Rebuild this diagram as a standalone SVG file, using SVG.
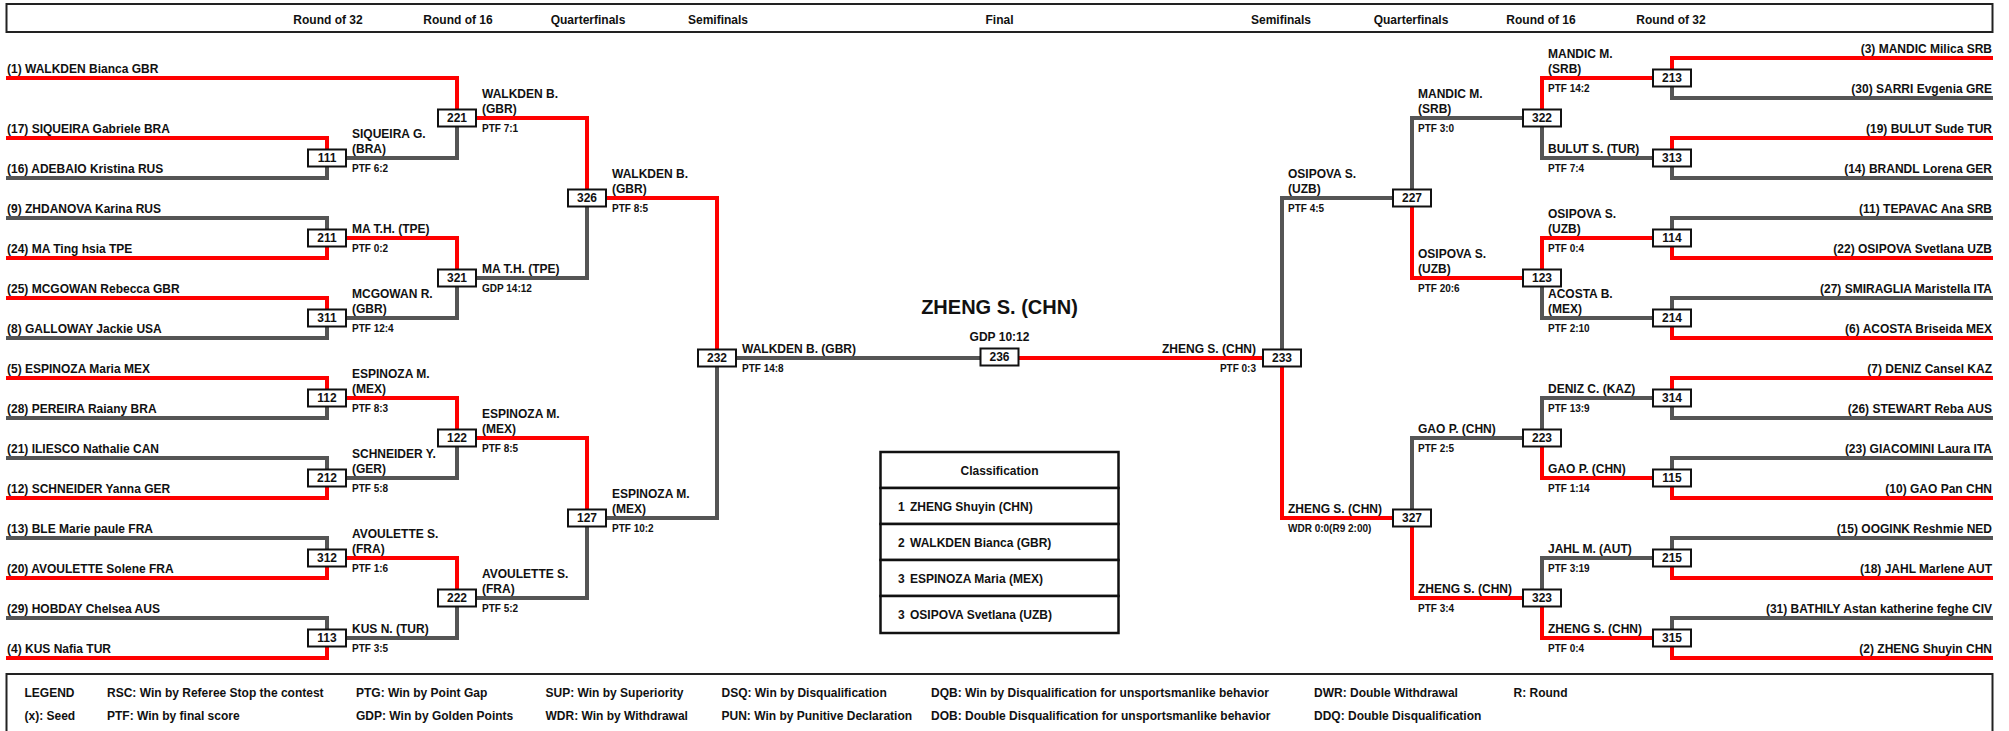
<svg xmlns="http://www.w3.org/2000/svg" width="2009" height="731" viewBox="0 0 2009 731">
<style>
text{font-family:"Liberation Sans",Arial,sans-serif;font-weight:bold;fill:#111}
.hd{font-size:12px;text-anchor:middle}
.ent{font-size:12px}
.entr{font-size:12px;text-anchor:end}
.nm{font-size:12px}
.sc{font-size:10px}
.bx{font-size:12px;text-anchor:middle}
.box{fill:#fff;stroke:#111;stroke-width:2}
.r{fill:none;stroke:#ff0000;stroke-width:4;stroke-linejoin:miter}
.g{fill:none;stroke:#555;stroke-width:4;stroke-linejoin:miter}
.frame{fill:#fff;stroke:#222;stroke-width:2}
.tbl{fill:#fff;stroke:#111;stroke-width:2.5}
.lg{font-size:12px}
</style>
<rect width="2009" height="731" fill="#fff"/>
<g id="header">
<rect class="frame" x="6.5" y="4" width="1986" height="28"/>
<text class="hd" x="328" y="24.3">Round of 32</text>
<text class="hd" x="458" y="24.3">Round of 16</text>
<text class="hd" x="588" y="24.3">Quarterfinals</text>
<text class="hd" x="718" y="24.3">Semifinals</text>
<text class="hd" x="999.5" y="24.3">Final</text>
<text class="hd" x="1281" y="24.3">Semifinals</text>
<text class="hd" x="1411" y="24.3">Quarterfinals</text>
<text class="hd" x="1541" y="24.3">Round of 16</text>
<text class="hd" x="1671" y="24.3">Round of 32</text>
</g>
<g id="connectors">
<path class="g" d="M6 178H327V158M6 218H327V238M6 338H327V318M6 418H327V398M6 458H327V478M6 538H327V558M6 618H327V638"/>
<path class="r" d="M6 78H457V118M6 138H327V158M6 258H327V238M6 298H327V318M6 378H327V398M6 498H327V478M6 578H327V558M6 658H327V638"/>
<path class="g" d="M327 158H457V118M327 318H457V278M327 478H457V438M327 638H457V598M457 278H587V198M457 598H587V518M587 518H717V358M717 358H999.5"/>
<path class="r" d="M327 238H457V278M327 398H457V438M327 558H457V598M457 118H587V198M457 438H587V518M587 198H717V358"/>
<path class="g" d="M1993 98H1672V78M1993 178H1672V158M1993 218H1672V238M1993 298H1672V318M1993 418H1672V398M1993 458H1672V478M1993 538H1672V558M1993 618H1672V638"/>
<path class="r" d="M1993 58H1672V78M1993 138H1672V158M1993 258H1672V238M1993 338H1672V318M1993 378H1672V398M1993 498H1672V478M1993 578H1672V558M1993 658H1672V638"/>
<path class="g" d="M1672 158H1542V118M1672 318H1542V278M1672 398H1542V438M1672 558H1542V598M1542 118H1412V198M1542 438H1412V518M1412 198H1282V358"/>
<path class="r" d="M1672 78H1542V118M1672 238H1542V278M1672 478H1542V438M1672 638H1542V598M1542 278H1412V198M1542 598H1412V518M1412 518H1282V358M1282 358H999.5"/>
</g>
<g id="entrants-left">
<text class="ent" x="7" y="72.5">(1) WALKDEN Bianca GBR</text>
<text class="ent" x="7" y="132.5">(17) SIQUEIRA Gabriele BRA</text>
<text class="ent" x="7" y="172.5">(16) ADEBAIO Kristina RUS</text>
<text class="ent" x="7" y="212.5">(9) ZHDANOVA Karina RUS</text>
<text class="ent" x="7" y="252.5">(24) MA Ting hsia TPE</text>
<text class="ent" x="7" y="292.5">(25) MCGOWAN Rebecca GBR</text>
<text class="ent" x="7" y="332.5">(8) GALLOWAY Jackie USA</text>
<text class="ent" x="7" y="372.5">(5) ESPINOZA Maria MEX</text>
<text class="ent" x="7" y="412.5">(28) PEREIRA Raiany BRA</text>
<text class="ent" x="7" y="452.5">(21) ILIESCO Nathalie CAN</text>
<text class="ent" x="7" y="492.5">(12) SCHNEIDER Yanna GER</text>
<text class="ent" x="7" y="532.5">(13) BLE Marie paule FRA</text>
<text class="ent" x="7" y="572.5">(20) AVOULETTE Solene FRA</text>
<text class="ent" x="7" y="612.5">(29) HOBDAY Chelsea AUS</text>
<text class="ent" x="7" y="652.5">(4) KUS Nafia TUR</text>
</g>
<g id="entrants-right">
<text class="entr" x="1992" y="52.5">(3) MANDIC Milica SRB</text>
<text class="entr" x="1992" y="92.5">(30) SARRI Evgenia GRE</text>
<text class="entr" x="1992" y="132.5">(19) BULUT Sude TUR</text>
<text class="entr" x="1992" y="172.5">(14) BRANDL Lorena GER</text>
<text class="entr" x="1992" y="212.5">(11) TEPAVAC Ana SRB</text>
<text class="entr" x="1992" y="252.5">(22) OSIPOVA Svetlana UZB</text>
<text class="entr" x="1992" y="292.5">(27) SMIRAGLIA Maristella ITA</text>
<text class="entr" x="1992" y="332.5">(6) ACOSTA Briseida MEX</text>
<text class="entr" x="1992" y="372.5">(7) DENIZ Cansel KAZ</text>
<text class="entr" x="1992" y="412.5">(26) STEWART Reba AUS</text>
<text class="entr" x="1992" y="452.5">(23) GIACOMINI Laura ITA</text>
<text class="entr" x="1992" y="492.5">(10) GAO Pan CHN</text>
<text class="entr" x="1992" y="532.5">(15) OOGINK Reshmie NED</text>
<text class="entr" x="1992" y="572.5">(18) JAHL Marlene AUT</text>
<text class="entr" x="1992" y="612.5">(31) BATHILY Astan katherine feghe CIV</text>
<text class="entr" x="1992" y="652.5">(2) ZHENG Shuyin CHN</text>
</g>
<g id="m111"><rect class="box" x="308" y="149.5" width="38" height="17"/><text class="bx" x="327" y="162.3">111</text>
<text class="nm" x="352" y="138">SIQUEIRA G.</text><text class="nm" x="352" y="152.5">(BRA)</text><text class="sc" x="352" y="172">PTF 6:2</text></g>
<g id="m211"><rect class="box" x="308" y="229.5" width="38" height="17"/><text class="bx" x="327" y="242.3">211</text>
<text class="nm" x="352" y="232.5">MA T.H. (TPE)</text><text class="sc" x="352" y="252">PTF 0:2</text></g>
<g id="m311"><rect class="box" x="308" y="309.5" width="38" height="17"/><text class="bx" x="327" y="322.3">311</text>
<text class="nm" x="352" y="298">MCGOWAN R.</text><text class="nm" x="352" y="312.5">(GBR)</text><text class="sc" x="352" y="332">PTF 12:4</text></g>
<g id="m112"><rect class="box" x="308" y="389.5" width="38" height="17"/><text class="bx" x="327" y="402.3">112</text>
<text class="nm" x="352" y="378">ESPINOZA M.</text><text class="nm" x="352" y="392.5">(MEX)</text><text class="sc" x="352" y="412">PTF 8:3</text></g>
<g id="m212"><rect class="box" x="308" y="469.5" width="38" height="17"/><text class="bx" x="327" y="482.3">212</text>
<text class="nm" x="352" y="458">SCHNEIDER Y.</text><text class="nm" x="352" y="472.5">(GER)</text><text class="sc" x="352" y="492">PTF 5:8</text></g>
<g id="m312"><rect class="box" x="308" y="549.5" width="38" height="17"/><text class="bx" x="327" y="562.3">312</text>
<text class="nm" x="352" y="538">AVOULETTE S.</text><text class="nm" x="352" y="552.5">(FRA)</text><text class="sc" x="352" y="572">PTF 1:6</text></g>
<g id="m113"><rect class="box" x="308" y="629.5" width="38" height="17"/><text class="bx" x="327" y="642.3">113</text>
<text class="nm" x="352" y="632.5">KUS N. (TUR)</text><text class="sc" x="352" y="652">PTF 3:5</text></g>
<g id="m221"><rect class="box" x="438" y="109.5" width="38" height="17"/><text class="bx" x="457" y="122.3">221</text>
<text class="nm" x="482" y="98">WALKDEN B.</text><text class="nm" x="482" y="112.5">(GBR)</text><text class="sc" x="482" y="132">PTF 7:1</text></g>
<g id="m321"><rect class="box" x="438" y="269.5" width="38" height="17"/><text class="bx" x="457" y="282.3">321</text>
<text class="nm" x="482" y="272.5">MA T.H. (TPE)</text><text class="sc" x="482" y="292">GDP 14:12</text></g>
<g id="m122"><rect class="box" x="438" y="429.5" width="38" height="17"/><text class="bx" x="457" y="442.3">122</text>
<text class="nm" x="482" y="418">ESPINOZA M.</text><text class="nm" x="482" y="432.5">(MEX)</text><text class="sc" x="482" y="452">PTF 8:5</text></g>
<g id="m222"><rect class="box" x="438" y="589.5" width="38" height="17"/><text class="bx" x="457" y="602.3">222</text>
<text class="nm" x="482" y="578">AVOULETTE S.</text><text class="nm" x="482" y="592.5">(FRA)</text><text class="sc" x="482" y="612">PTF 5:2</text></g>
<g id="m326"><rect class="box" x="568" y="189.5" width="38" height="17"/><text class="bx" x="587" y="202.3">326</text>
<text class="nm" x="612" y="178">WALKDEN B.</text><text class="nm" x="612" y="192.5">(GBR)</text><text class="sc" x="612" y="212">PTF 8:5</text></g>
<g id="m127"><rect class="box" x="568" y="509.5" width="38" height="17"/><text class="bx" x="587" y="522.3">127</text>
<text class="nm" x="612" y="498">ESPINOZA M.</text><text class="nm" x="612" y="512.5">(MEX)</text><text class="sc" x="612" y="532">PTF 10:2</text></g>
<g id="m232"><rect class="box" x="698" y="349.5" width="38" height="17"/><text class="bx" x="717" y="362.3">232</text>
<text class="nm" x="742" y="352.5">WALKDEN B. (GBR)</text><text class="sc" x="742" y="372">PTF 14:8</text></g>
<g id="m236"><text x="999.5" y="314" style="font-size:20px;text-anchor:middle">ZHENG S. (CHN)</text>
<text class="hd" x="999.5" y="340.5">GDP 10:12</text>
<rect class="box" x="980.5" y="348.5" width="38" height="17"/><text class="bx" x="999.5" y="361.3">236</text></g>
<g id="m233"><rect class="box" x="1263" y="349.5" width="38" height="17"/><text class="bx" x="1282" y="362.3">233</text>
<text class="nm" x="1256" y="352.5" text-anchor="end">ZHENG S. (CHN)</text><text class="sc" x="1256" y="372" text-anchor="end">PTF 0:3</text></g>
<g id="m227"><rect class="box" x="1393" y="189.5" width="38" height="17"/><text class="bx" x="1412" y="202.3">227</text>
<text class="nm" x="1288" y="178">OSIPOVA S.</text><text class="nm" x="1288" y="192.5">(UZB)</text><text class="sc" x="1288" y="212">PTF 4:5</text></g>
<g id="m327"><rect class="box" x="1393" y="509.5" width="38" height="17"/><text class="bx" x="1412" y="522.3">327</text>
<text class="nm" x="1288" y="512.5">ZHENG S. (CHN)</text><text class="sc" x="1288" y="532">WDR 0:0(R9 2:00)</text></g>
<g id="m322"><rect class="box" x="1523" y="109.5" width="38" height="17"/><text class="bx" x="1542" y="122.3">322</text>
<text class="nm" x="1418" y="98">MANDIC M.</text><text class="nm" x="1418" y="112.5">(SRB)</text><text class="sc" x="1418" y="132">PTF 3:0</text></g>
<g id="m123"><rect class="box" x="1523" y="269.5" width="38" height="17"/><text class="bx" x="1542" y="282.3">123</text>
<text class="nm" x="1418" y="258">OSIPOVA S.</text><text class="nm" x="1418" y="272.5">(UZB)</text><text class="sc" x="1418" y="292">PTF 20:6</text></g>
<g id="m223"><rect class="box" x="1523" y="429.5" width="38" height="17"/><text class="bx" x="1542" y="442.3">223</text>
<text class="nm" x="1418" y="432.5">GAO P. (CHN)</text><text class="sc" x="1418" y="452">PTF 2:5</text></g>
<g id="m323"><rect class="box" x="1523" y="589.5" width="38" height="17"/><text class="bx" x="1542" y="602.3">323</text>
<text class="nm" x="1418" y="592.5">ZHENG S. (CHN)</text><text class="sc" x="1418" y="612">PTF 3:4</text></g>
<g id="m213"><rect class="box" x="1653" y="69.5" width="38" height="17"/><text class="bx" x="1672" y="82.3">213</text>
<text class="nm" x="1548" y="58">MANDIC M.</text><text class="nm" x="1548" y="72.5">(SRB)</text><text class="sc" x="1548" y="92">PTF 14:2</text></g>
<g id="m313"><rect class="box" x="1653" y="149.5" width="38" height="17"/><text class="bx" x="1672" y="162.3">313</text>
<text class="nm" x="1548" y="152.5">BULUT S. (TUR)</text><text class="sc" x="1548" y="172">PTF 7:4</text></g>
<g id="m114"><rect class="box" x="1653" y="229.5" width="38" height="17"/><text class="bx" x="1672" y="242.3">114</text>
<text class="nm" x="1548" y="218">OSIPOVA S.</text><text class="nm" x="1548" y="232.5">(UZB)</text><text class="sc" x="1548" y="252">PTF 0:4</text></g>
<g id="m214"><rect class="box" x="1653" y="309.5" width="38" height="17"/><text class="bx" x="1672" y="322.3">214</text>
<text class="nm" x="1548" y="298">ACOSTA B.</text><text class="nm" x="1548" y="312.5">(MEX)</text><text class="sc" x="1548" y="332">PTF 2:10</text></g>
<g id="m314"><rect class="box" x="1653" y="389.5" width="38" height="17"/><text class="bx" x="1672" y="402.3">314</text>
<text class="nm" x="1548" y="392.5">DENIZ C. (KAZ)</text><text class="sc" x="1548" y="412">PTF 13:9</text></g>
<g id="m115"><rect class="box" x="1653" y="469.5" width="38" height="17"/><text class="bx" x="1672" y="482.3">115</text>
<text class="nm" x="1548" y="472.5">GAO P. (CHN)</text><text class="sc" x="1548" y="492">PTF 1:14</text></g>
<g id="m215"><rect class="box" x="1653" y="549.5" width="38" height="17"/><text class="bx" x="1672" y="562.3">215</text>
<text class="nm" x="1548" y="552.5">JAHL M. (AUT)</text><text class="sc" x="1548" y="572">PTF 3:19</text></g>
<g id="m315"><rect class="box" x="1653" y="629.5" width="38" height="17"/><text class="bx" x="1672" y="642.3">315</text>
<text class="nm" x="1548" y="632.5">ZHENG S. (CHN)</text><text class="sc" x="1548" y="652">PTF 0:4</text></g>
<g id="classification">
<rect class="tbl" x="880.5" y="452" width="238" height="36"/>
<rect class="tbl" x="880.5" y="488" width="238" height="36"/>
<rect class="tbl" x="880.5" y="524" width="238" height="36"/>
<rect class="tbl" x="880.5" y="560" width="238" height="36"/>
<rect class="tbl" x="880.5" y="596" width="238" height="37"/>
<text class="hd" x="999.5" y="475">Classification</text>
<text class="nm" x="898" y="511">1</text><text class="nm" x="910" y="511">ZHENG Shuyin (CHN)</text>
<text class="nm" x="898" y="547">2</text><text class="nm" x="910" y="547">WALKDEN Bianca (GBR)</text>
<text class="nm" x="898" y="582.5">3</text><text class="nm" x="910" y="582.5">ESPINOZA Maria (MEX)</text>
<text class="nm" x="898" y="619">3</text><text class="nm" x="910" y="619">OSIPOVA Svetlana (UZB)</text>
</g>
<g id="legend">
<rect class="frame" x="6.5" y="674" width="1986" height="80"/>
<text class="lg" x="24.5" y="697">LEGEND</text>
<text class="lg" x="24.5" y="719.5">(x): Seed</text>
<text class="lg" x="107" y="697">RSC: Win by Referee Stop the contest</text>
<text class="lg" x="107" y="719.5">PTF: Win by final score</text>
<text class="lg" x="356" y="697">PTG: Win by Point Gap</text>
<text class="lg" x="356" y="719.5">GDP: Win by Golden Points</text>
<text class="lg" x="545.5" y="697">SUP: Win by Superiority</text>
<text class="lg" x="545.5" y="719.5">WDR: Win by Withdrawal</text>
<text class="lg" x="721.5" y="697">DSQ: Win by Disqualification</text>
<text class="lg" x="721.5" y="719.5">PUN: Win by Punitive Declaration</text>
<text class="lg" x="931" y="697">DQB: Win by Disqualification for unsportsmanlike behavior</text>
<text class="lg" x="931" y="719.5">DOB: Double Disqualification for unsportsmanlike behavior</text>
<text class="lg" x="1314" y="697">DWR: Double Withdrawal</text>
<text class="lg" x="1314" y="719.5">DDQ: Double Disqualification</text>
<text class="lg" x="1513.5" y="697">R: Round</text>
</g>
</svg>
